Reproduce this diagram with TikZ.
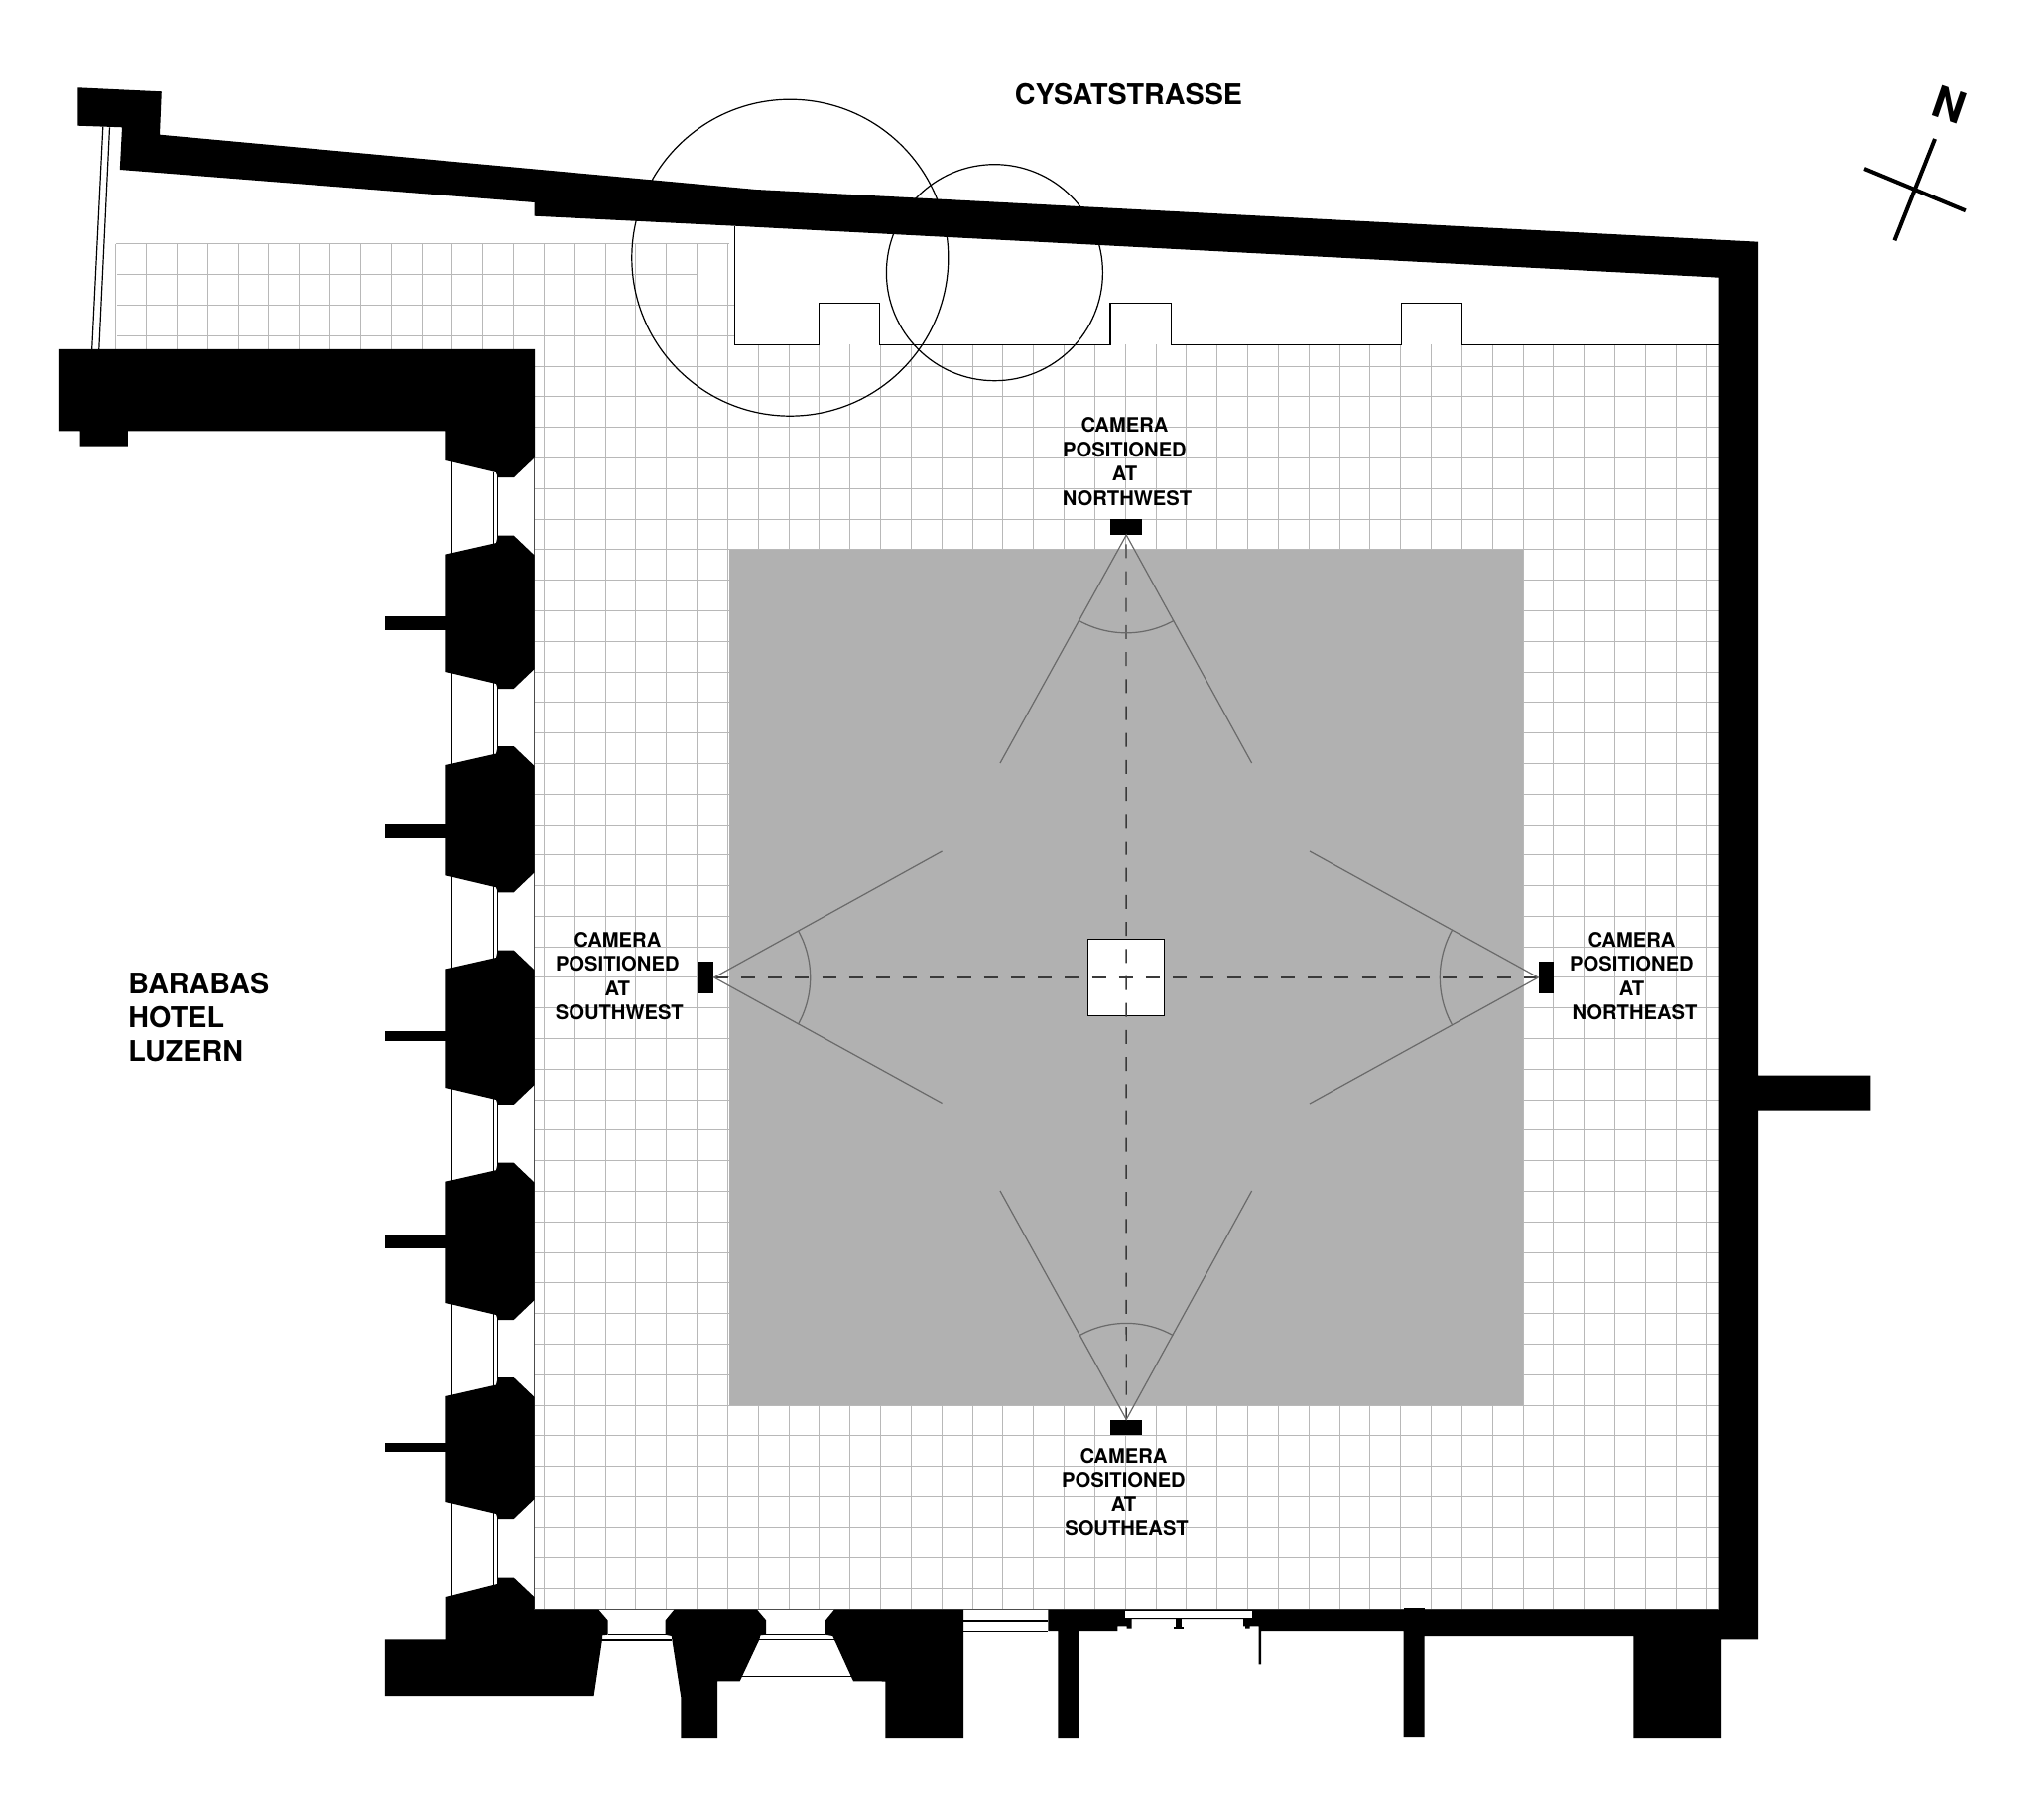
\documentclass[tikz,border=0pt]{standalone}
\usepackage{fontspec}
\setmainfont{TeX Gyre Heros}
\usetikzlibrary{calc}
\definecolor{gridc}{HTML}{B8B8B8}
\definecolor{slab}{HTML}{B1B1B1}
\definecolor{viewc}{HTML}{6A6A6A}
\definecolor{dashc}{HTML}{3A3A3A}
\newcommand{\pier}[2]{\fill[wallfill] (449.3,#1+19) -- (500,#1+7.5) -- (501.7,#1) -- (517.7,#1) -- (538.7,#1+20) -- (538.7,#2-20) -- (517.7,#2) -- (501.7,#2) -- (500,#2-5) -- (449.3,#2-17) -- cycle;}
\newcommand{\armbar}[2]{\fill[wallfill] (388,#1) rectangle (450,#2);}
\tikzset{
  wallfill/.style={fill=black},
  gridline/.style={draw=gridc,line width=0.5pt},
  thinline/.style={draw=black,line width=0.6pt},
  viewline/.style={draw=viewc,line width=0.6pt},
  axisline/.style={draw=dashc,line width=0.7pt,dash pattern=on 7pt off 6.6pt},
  camlabel/.style={font=\fontsize{10.1}{12.25}\selectfont\bfseries,align=center,inner sep=0pt},
  biglabel/.style={font=\fontsize{14.35}{17}\selectfont\bfseries,inner sep=0pt}
}
\begin{document}
\begin{tikzpicture}[x=0.5pt,y=-0.5pt]
\useasboundingbox (0,0) rectangle (2048,1834);
% grid
\foreach \i in {0,...,13} \draw[gridline] ({116.8+30.83*\i},246) -- ({116.8+30.83*\i},352);
\foreach \i in {14,...,20} \draw[gridline] ({116.8+30.83*\i},246) -- ({116.8+30.83*\i},1621);
\foreach \i in {21,...,52} \draw[gridline] ({116.8+30.83*\i},347.3) -- ({116.8+30.83*\i},1621);
\draw[gridline] (116.8,246) -- (735,246);
\draw[gridline] (118,276.8) -- (703.5,276.8);
\draw[gridline] (118,307.6) -- (740,307.6);
\draw[gridline] (118,338.4) -- (740,338.4);
\foreach \j in {4,...,44} \draw[gridline] (539,{246+30.79*\j}) -- (1732.6,{246+30.79*\j});
% slab
\fill[slab] (735,553.7) rectangle (1535.3,1415.5);
% centre square
\node[draw=black,fill=white,line width=0.6pt,minimum size=38.6pt,inner sep=0pt] (centre) at (1135,985.2) {};
% trees
\draw[thinline] (796.3,259.7) circle[radius=159.5];
\draw[thinline] (1002.4,274.7) circle[radius=109];
% profile line
\draw[thinline] (740.5,227.7) -- (740.5,347.3) -- (825.4,347.3) -- (825.4,305.7) -- (886.5,305.7) -- (886.5,347.3) -- (1119,347.3) -- (1119,305.7) -- (1180.3,305.7) -- (1180.3,347.3) -- (1412.5,347.3) -- (1412.5,305.7) -- (1473.7,305.7) -- (1473.7,347.3) -- (1732.6,347.3);
% thin window lines
\draw[thinline] (103.8,127.7) -- (92.7,352);
\draw[thinline] (110.5,128.3) -- (99.8,352);
\draw[thinline] (455.6,460) -- (455.6,1612);
\draw[thinline] (497.3,476) -- (497.3,1600);
\draw[thinline] (501.2,476) -- (501.2,1600);
\draw[thinline,draw=black!70] (538.7,461) -- (538.7,1621);
\draw[thinline,draw=black!70] (539,1621.6) -- (1732,1621.6);
\draw[thinline] (612.5,1647.7) -- (670.7,1647.7);
\draw[thinline] (607,1653) -- (676.8,1653);
\draw[thinline] (772.1,1647.7) -- (832.1,1647.7);
\draw[thinline] (765.4,1652.3) -- (840.7,1652.3);
\draw[thinline] (747.5,1689.7) -- (857.5,1689.7);
\draw[thinline] (971,1633) -- (1056.3,1633);
\draw[thinline] (971,1644.7) -- (1056.3,1644.7);
% main wall
\fill[wallfill] (1056.3,1621.5) -- (1056.3,1644) -- (1066.3,1644) -- (1066.3,1751) -- (1087,1751) -- (1087,1644) -- (1126.3,1644) -- (1126.3,1639.3) -- (1135.7,1639.3) -- (1135.7,1641.7) -- (1140.7,1641.7) -- (1140.7,1631) -- (1253,1631) -- (1253,1639.3) -- (1255,1639.3) -- (1255,1641.7) -- (1259.7,1641.7) -- (1259.7,1639.3) -- (1268.7,1639.3) -- (1268.7,1677.3) -- (1271,1677.3) -- (1271,1644) -- (1414.7,1644) -- (1414.7,1750) -- (1435.7,1750) -- (1435.7,1649) -- (1646.3,1649) -- (1646.3,1751) -- (1735,1751) -- (1735,1652.3) -- (1772,1652.3) -- (1772,1119.7) -- (1885.3,1119.7) -- (1885.3,1083.7) -- (1772,1083.7) -- (1772,243.7) -- (762,191) -- (161,135.7) -- (162.8,92.3) -- (78.4,88.3) -- (78.4,126.7) -- (123,128.3) -- (120.8,171) -- (538.7,204) -- (538.7,217.7) -- (740.5,227.7) -- (1732.6,279.7) -- (1732.6,1621.5) -- cycle;
\fill[wallfill] (1414.7,1620.3) rectangle (1435.7,1625);
% door
\fill[white] (1134,1622.7) rectangle (1262.3,1630);
\fill[wallfill] (1185,1631) rectangle (1191,1641);
\fill[wallfill] (1182.7,1640) rectangle (1193,1641.7);
% top-left block
\fill[wallfill] (58.8,352) -- (539,352) -- (539,461) -- (518,481) -- (502,481) -- (499.8,476) -- (449.4,464) -- (449.4,434.3) -- (128.8,434.3) -- (128.8,449.7) -- (80.6,449.7) -- (80.6,434.3) -- (58.8,434.3) -- cycle;
% piers
\pier{539.6}{694}
\pier{752}{899.3}
\pier{957.5}{1113}
\pier{1171.7}{1330}
\pier{1388}{1531}
\armbar{621.4}{635}
\armbar{830.4}{843.6}
\armbar{1038.6}{1048.6}
\armbar{1244}{1258.3}
\armbar{1454.3}{1463.3}
% bottom-left mass and piers
\fill[wallfill] (449.5,1609) -- (501,1596) -- (501.4,1589.7) -- (517.9,1589.7) -- (538.7,1609.3) -- (538.7,1621.5) -- (603.2,1621.5) -- (612.5,1632.3) -- (612.5,1647.7) -- (607,1648.3) -- (607,1652.3) -- (598.6,1709) -- (387.9,1709) -- (387.9,1652.3) -- (449.5,1652.3) -- cycle;
\fill[wallfill] (679.6,1621.5) -- (670.7,1632.3) -- (670.7,1647.7) -- (676.8,1649) -- (686.4,1711) -- (686.4,1751) -- (723.2,1751) -- (723.2,1694.3) -- (745.7,1694.3) -- (765.4,1652.3) -- (766.4,1648.3) -- (772.1,1647.7) -- (772.1,1632.3) -- (762.9,1621.5) -- cycle;
\fill[wallfill] (841,1621.5) -- (832.1,1632.3) -- (832.1,1647.7) -- (839.3,1649) -- (860,1694.3) -- (892.3,1694.5) -- (892.3,1751) -- (971,1751) -- (971,1621.5) -- cycle;
% cameras
\node[fill=black,inner sep=0pt,minimum width=16.2pt,minimum height=7.7pt] (camnw) at (1135.2,531) {};
\node[fill=black,inner sep=0pt,minimum width=16.2pt,minimum height=7.7pt] (camse) at (1135.2,1438.5) {};
\node[fill=black,inner sep=0pt,minimum width=7.7pt,minimum height=15.8pt] (camsw) at (711.6,985) {};
\node[fill=black,inner sep=0pt,minimum width=7.7pt,minimum height=15.8pt] (camne) at (1558.4,985) {};
% axes
\draw[axisline] (1135,548.3) -- (camse.north);
\draw[axisline] (camsw.east) -- (camne.west);
% fields of view
\draw[viewline] (1008,769) -- (camnw.south) -- (1261.6,769);
\draw[viewline] (1008,1200) -- (camse.north) -- (1261.6,1200);
\draw[viewline] (949.5,858) -- (camsw.east) -- (949.5,1111.5);
\draw[viewline] (1320,858) -- (camne.west) -- (1320,1112);
\draw[viewline] ($(camnw.south)+(119:98.7)$) arc[start angle=119,end angle=61,radius=98.7];
\draw[viewline] ($(camse.north)+(-119:97)$) arc[start angle=-119,end angle=-61,radius=97];
\draw[viewline] ($(camsw.east)+(29:97)$) arc[start angle=29,end angle=-29,radius=97];
\draw[viewline] ($(camne.west)+(151:99)$) arc[start angle=151,end angle=209,radius=99];
% labels
\node[camlabel] (lnw) at (1133.5,465.2) {CAMERA\\POSITIONED\\AT\\\hspace*{2.5pt}NORTHWEST};
\node[camlabel] (lse) at (1132.5,1503.7) {CAMERA\\POSITIONED\\AT\\\hspace*{3pt}SOUTHEAST};
\node[camlabel] (lsw) at (622.3,983.5) {CAMERA\\POSITIONED\\AT\\\hspace*{2pt}SOUTHWEST};
\node[camlabel] (lne) at (1644.5,983.5) {CAMERA\\POSITIONED\\AT\\\hspace*{3pt}NORTHEAST};
\node[biglabel] (street) at (1137.5,95.5) {CYSATSTRASSE};
\node[biglabel,anchor=west,align=left] (hotel) at (129,1025.5) {BARABAS\\HOTEL\\LUZERN};
% north sign
\coordinate (n1) at (1950,140);
\coordinate (n2) at (1909.4,242.3);
\coordinate (e1) at (1879,170);
\coordinate (e2) at (1980.8,212.3);
\draw[line width=2pt] (n1) -- (n2);
\draw[line width=2pt] (e1) -- (e2);
\node[font=\fontsize{22}{22}\selectfont\bfseries,rotate=-19,inner sep=0pt] (north) at (1965,106) {N};
\end{tikzpicture}
\end{document}
